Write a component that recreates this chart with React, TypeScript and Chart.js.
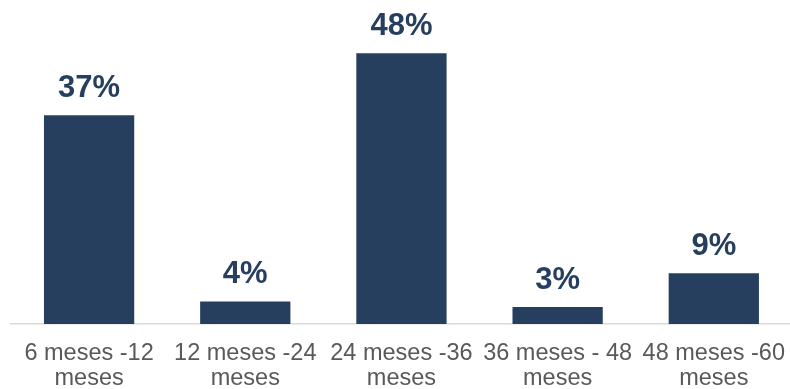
import React, { useEffect, useRef } from "react";
import { Chart, registerables } from "chart.js";

Chart.register(...registerables);

const categories: string[][] = [
  ["6 meses -12", "meses"],
  ["12 meses -24", "meses"],
  ["24 meses -36", "meses"],
  ["36 meses - 48", "meses"],
  ["48 meses -60", "meses"],
];
const values: number[] = [37, 4, 48, 3, 9];
const valueLabels: string[] = ["37%", "4%", "48%", "3%", "9%"];

const BAR_COLOR = "#263F5F";
const FONT = "'Liberation Sans', Arial, sans-serif";

const labelPlugin = {
  id: "valueLabels",
  afterDatasetsDraw(chart: any) {
    const ctx = chart.ctx;
    const meta = chart.getDatasetMeta(0);
    ctx.save();
    ctx.fillStyle = BAR_COLOR;
    ctx.font = `bold 31px ${FONT}`;
    ctx.textAlign = "center";
    ctx.textBaseline = "alphabetic";
    meta.data.forEach((el: any, i: number) => {
      ctx.fillText(valueLabels[i], el.x, el.y - 18.5);
    });
    ctx.restore();
  },
};

export default function App() {
  const ref = useRef<HTMLCanvasElement | null>(null);
  useEffect(() => {
    if (!ref.current) return;
    const chart = new Chart(ref.current, {
      type: "bar",
      data: {
        labels: categories,
        datasets: [
          {
            data: values,
            backgroundColor: BAR_COLOR,
            borderWidth: 0,
            barPercentage: 0.578,
            categoryPercentage: 1,
          },
        ],
      },
      options: {
        responsive: false,
        animation: false,
        devicePixelRatio: 1,
        layout: { padding: { left: 11, right: 0, top: 42, bottom: 0 } },
        plugins: { legend: { display: false }, tooltip: { enabled: false } },
        scales: {
          y: { display: false, min: 0, max: 50 },
          x: {
            grid: { display: false, drawTicks: false },
            border: { display: true, color: "#D9D9D9", width: 1.5 },
            ticks: {
              color: "#595959",
              font: { family: FONT, size: 23.5, lineHeight: "25px" as any },
              padding: 17,
              maxRotation: 0,
              minRotation: 0,
              autoSkip: false,
            },
          },
        },
      },
      plugins: [labelPlugin],
    });
    return () => chart.destroy();
  }, []);
  return (
    <div
      style={{
        position: "absolute",
        left: 0,
        top: 0,
        width: 790,
        height: 389,
        overflow: "hidden",
        background: "#fff",
      }}
    >
      <canvas ref={ref} width={802} height={408} style={{ width: 802, height: 408, display: "block" }} />
    </div>
  );
}
